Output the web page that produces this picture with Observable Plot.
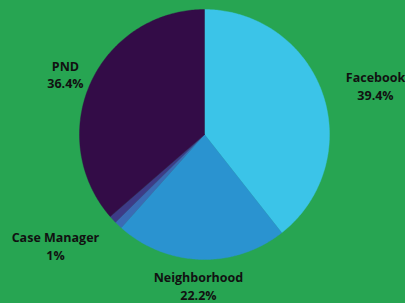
<!DOCTYPE html>
<html><head><meta charset="utf-8">
<script src="https://cdn.jsdelivr.net/npm/d3@7"></script>
<script src="https://cdn.jsdelivr.net/npm/@observablehq/plot@0.6"></script>
<style>html,body{margin:0;padding:0;background:#27a552;overflow:hidden;}</style>
</head><body><div id="chart"></div>
<script>
const categories = ["Facebook", "Neighborhood", "Case Manager", "Other", "PND"];
const shares = [39.4, 22.2, 1, 1, 36.4];
const labelNames = ["Facebook", "Neighborhood", "Case Manager", "", "PND"];
const labelValues = ["39.4%", "22.2%", "1%", "", "36.4%"];
const colors = ["#3bc4e8", "#2a93d0", "#3a6bb5", "#3d3b87", "#330c47"];

// layout constants (label radius / angle shift in degrees)
const labelLayout = {
  "Facebook": [1.423, 3.1],
  "Neighborhood": [1.209, 0.5],
  "Case Manager": [1.486, 9.8],
  "PND": [1.214, -0.9]
};

const total = d3.sum(shares);
let acc = 0;
const slices = categories.map((c, i) => {
  const a0 = acc / total * 2 * Math.PI;
  acc += shares[i];
  const a1 = acc / total * 2 * Math.PI;
  return {c, a0, a1, mid: (a0 + a1) / 2, i};
});
const pts = [];
for (const s of slices) {
  pts.push({c: s.c, x: 0, y: 0});
  const n = Math.max(4, Math.ceil((s.a1 - s.a0) * 80));
  for (let k = 0; k <= n; k++) {
    const a = s.a0 + (s.a1 - s.a0) * k / n;
    pts.push({c: s.c, x: Math.sin(a), y: Math.cos(a)});
  }
  pts.push({c: s.c, x: 0, y: 0});
}
const labels = slices.filter(s => labelNames[s.i]).map(s => {
  const [r, da] = labelLayout[s.c];
  const a = s.mid + da * Math.PI / 180;
  return {x: r * Math.sin(a), y: r * Math.cos(a), text: labelNames[s.i] + "\n" + labelValues[s.i]};
});

const R = 125, W = 405, H = 303, cx = 204, cy = 134;
const chart = Plot.plot({
  width: W, height: H,
  margin: 0,
  style: {background: "#27a552", overflow: "visible"},
  x: {domain: [-cx / R, (W - cx) / R], axis: null},
  y: {domain: [-(H - cy) / R, cy / R], axis: null},
  color: {domain: categories, range: colors},
  marks: [
    Plot.line(pts, {x: "x", y: "y", z: "c", fill: "c", stroke: "c", strokeWidth: 0.4, curve: "linear"}),
    Plot.text(labels, {x: "x", y: "y", text: "text", fontSize: 12.5, fontWeight: "bold", fontFamily: "Open Sans", fill: "#111", lineHeight: 1.42, lineAnchor: "middle"})
  ]
});
document.getElementById("chart").append(chart);
</script>
</body></html>
